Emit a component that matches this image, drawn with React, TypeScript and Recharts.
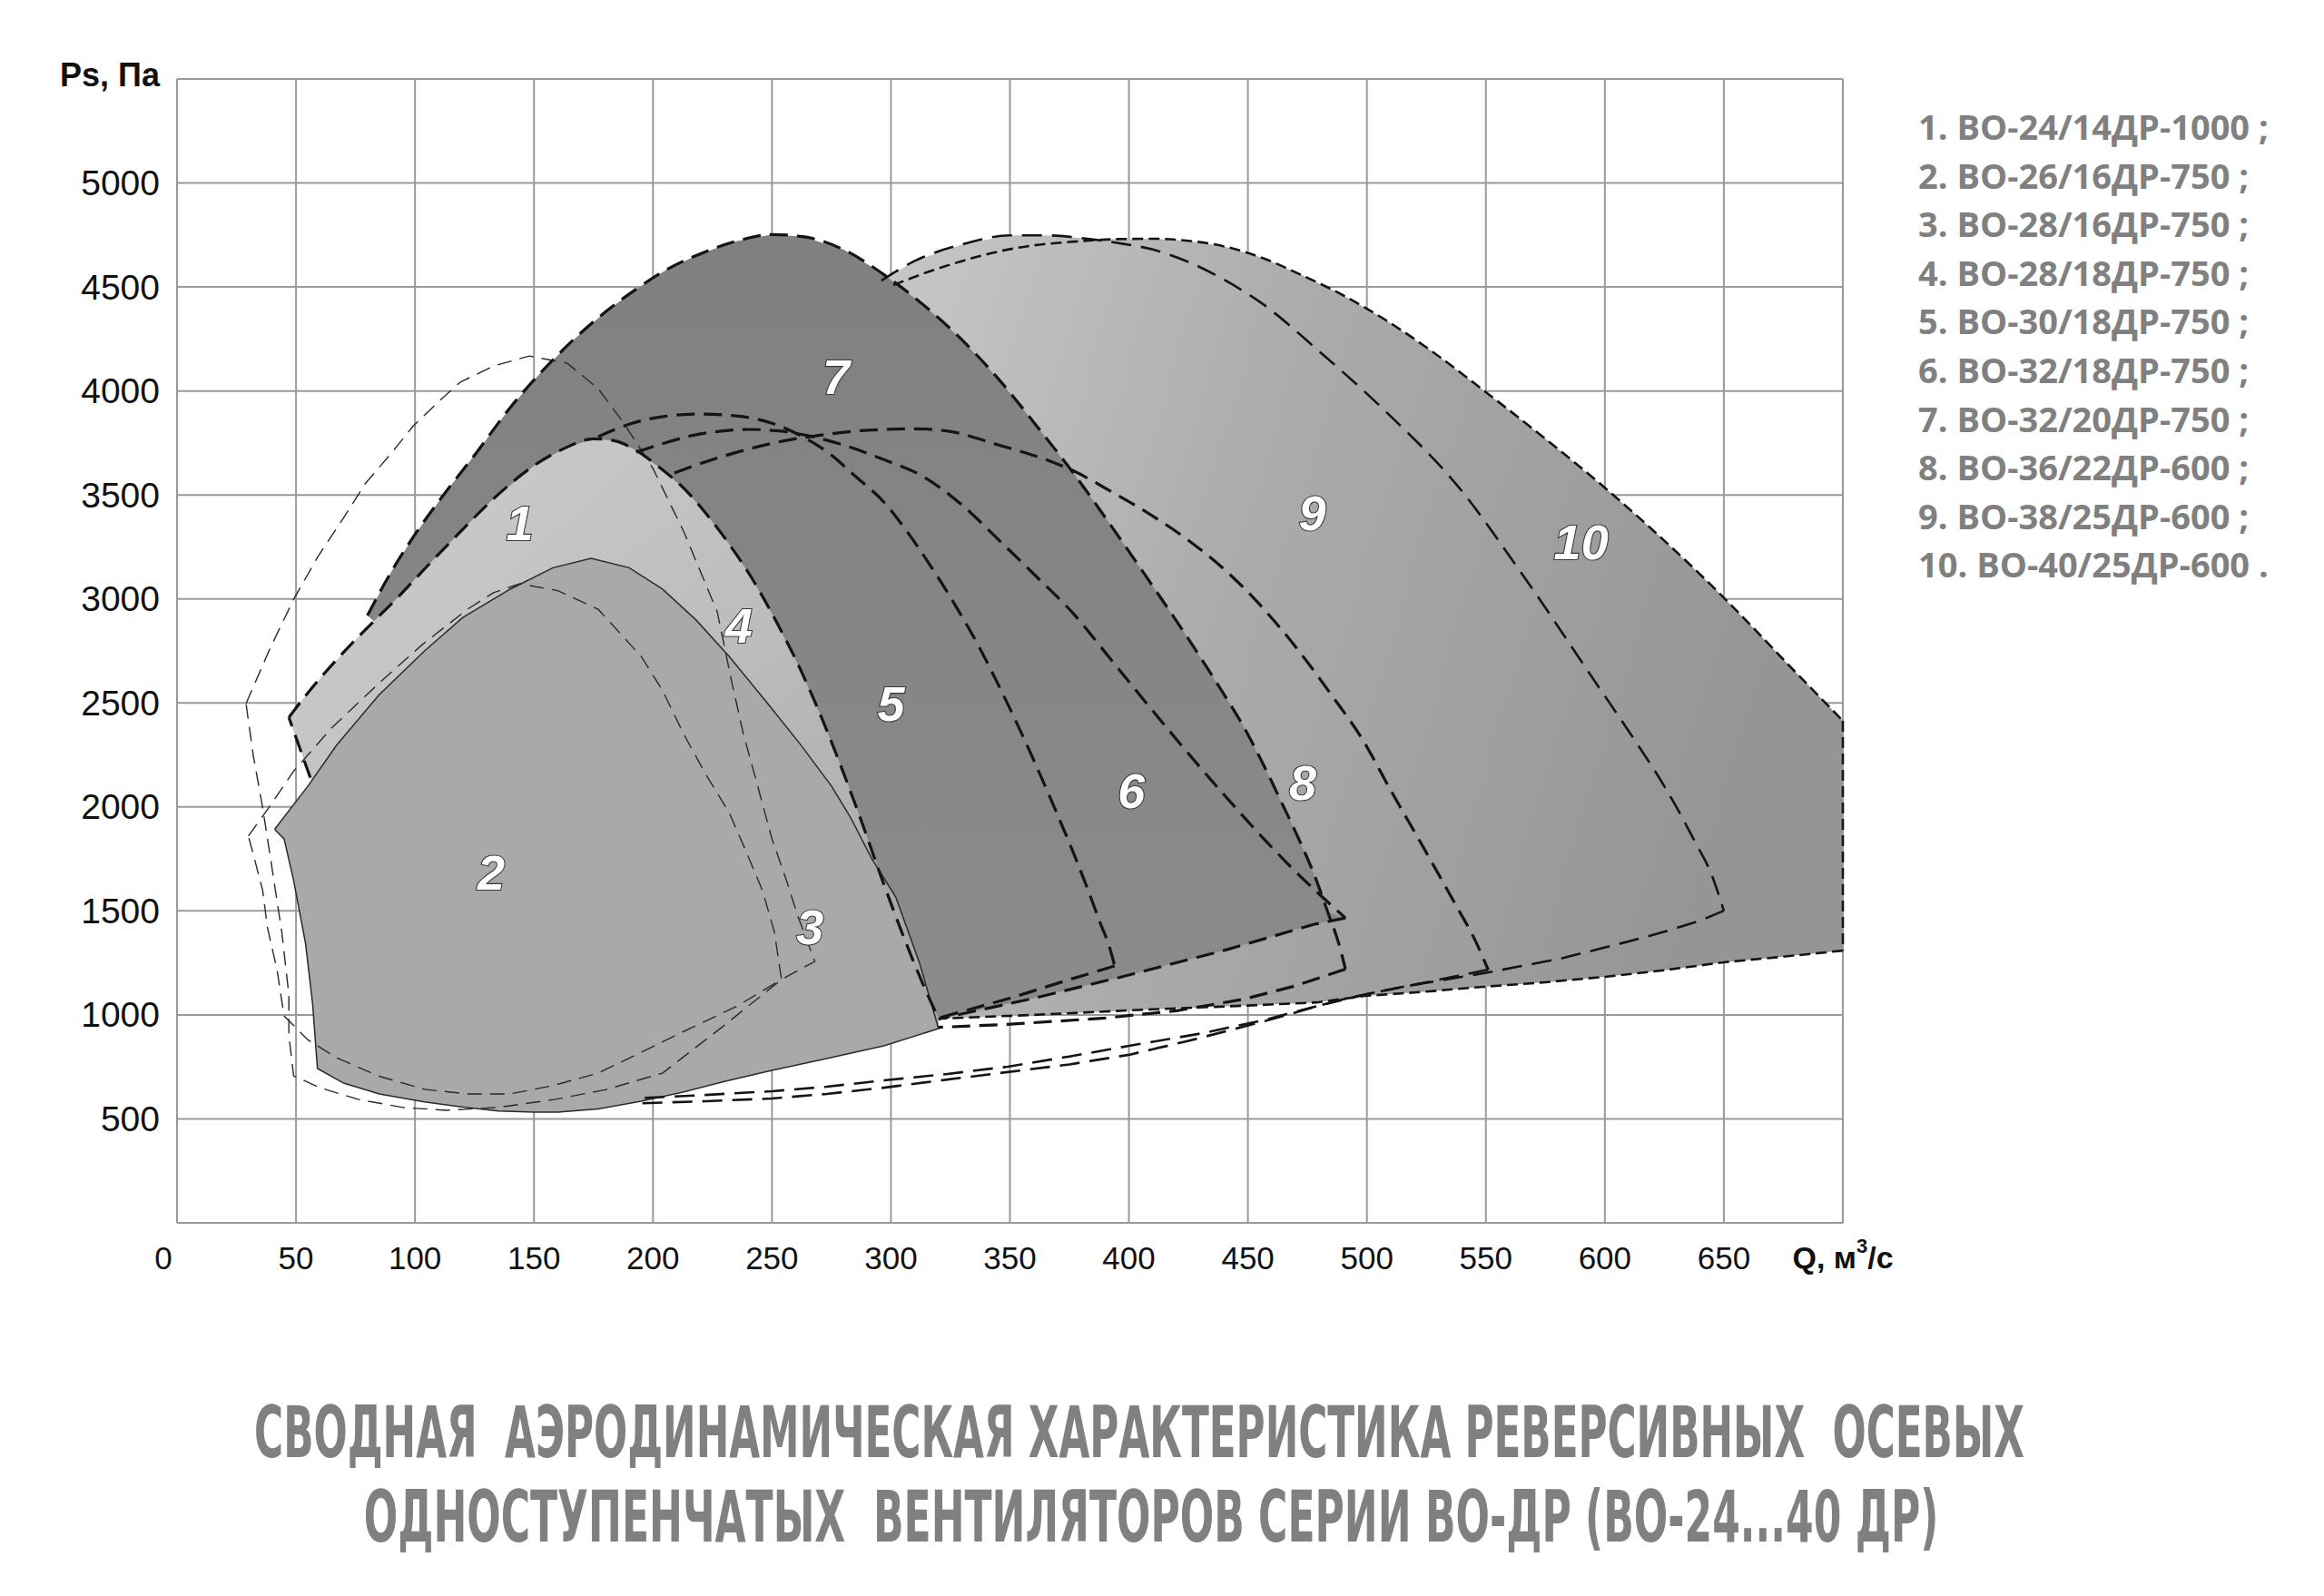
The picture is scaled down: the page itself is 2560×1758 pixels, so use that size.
import React, { useLayoutEffect, useRef, useState } from 'react';
import { ComposedChart, Scatter, XAxis, YAxis, CartesianGrid } from 'recharts';

type P = [number, number];

// ---- axis ticks ----
const X_TICKS = [0, 50, 100, 150, 200, 250, 300, 350, 400, 450, 500, 550, 600, 650, 700];
const Y_TICKS = [0, 500, 1000, 1500, 2000, 2500, 3000, 3500, 4000, 4500, 5000, 5500];

// ---- curves (Q, m3/s ; Ps, Pa) ----
const SEVEN: P[] = [[80,2920],[90,3130],[100,3310],[112,3500],[126,3706],[140,3920],[153,4090],[166,4240],[180,4380],[193,4490],[206,4585],[220,4660],[235,4720],[250,4752],[263,4742],[280,4680],[297,4560],[313,4420],[329,4255],[345,4060],[361,3835],[377,3600],[392,3360],[408,3095],[424,2825],[440,2540],[448,2390],[456,2215],[464,2025],[472,1830],[478,1670],[484,1480],[488,1350],[491,1220]];
const SEVEN_BOTTOM: P[] = [[491,1220],[470,1140],[448,1075],[420,1020],[390,985],[350,955],[320,940]];

const ONE_LEFT: P[] = [[56,2141],[47,2430]];
const ONE_TOP: P[] = [[47,2430],[53,2520],[60,2617],[73,2780],[81,2873],[93,3010],[104,3144],[118,3310],[132,3471],[150,3641],[163,3725],[175,3770],[184,3760],[192,3720],[203,3630],[214,3520],[223,3400],[232,3264],[241,3110],[250,2930],[262,2660],[271,2425],[279,2195],[287,1950],[296,1660],[305,1385],[313,1160],[320,982]];

const FIVE: P[] = [[177,3780],[190,3840],[205,3878],[220,3889],[235,3880],[250,3845],[262,3785],[274,3700],[285,3590],[297,3466],[307,3320],[316,3170],[327,2970],[337,2770],[345,2590],[353,2400],[360,2225],[368,2015],[377,1770],[383,1595],[388,1440],[392,1320],[394,1235]];
const FIVE_BOTTOM: P[] = [[394,1235],[375,1170],[350,1080],[320,985]];

const SIX: P[] = [[193,3706],[205,3750],[215,3782],[227,3805],[240,3815],[253,3808],[265,3785],[280,3740],[297,3670],[313,3592],[330,3450],[345,3287],[360,3120],[377,2925],[392,2715],[408,2490],[424,2270],[440,2058],[456,1855],[468,1712],[480,1580],[491,1466]];
const SIX_BOTTOM: P[] = [[491,1466],[478,1436],[440,1310],[397,1183],[360,1080],[320,980]];

const EIGHT: P[] = [[209,3606],[225,3670],[240,3720],[255,3760],[269,3785],[283,3805],[297,3815],[310,3818],[325,3805],[345,3741],[360,3690],[377,3614],[392,3520],[408,3413],[424,3290],[440,3143],[456,2960],[472,2741],[485,2540],[498,2327],[510,2080],[524,1800],[538,1515],[545,1370],[551,1216]];
const EIGHT_BOTTOM: P[] = [[551,1218],[537,1185],[523,1152],[500,1100],[480,1045],[465,995],[448,943],[425,875],[400,808],[375,762],[349,725],[323,688],[297,650],[273,620],[250,598],[222,585],[195,575]];

const NINE: P[] = [[296,4530],[310,4625],[330,4705],[350,4748],[365,4748],[380,4735],[395,4712],[410,4680],[424,4625],[440,4535],[456,4420],[480,4190],[508,3900],[538,3545],[567,3090],[596,2600],[612,2330],[626,2080],[638,1830],[645,1670],[650,1500]];
const NINE_BOTTOM: P[] = [[650,1501],[640,1453],[625,1400],[610,1353],[595,1310],[581,1270],[565,1235],[549,1200],[532,1168],[515,1135],[500,1100],[490,1075],[475,1030],[456,973],[430,910],[400,851],[375,800],[349,751],[323,715],[297,685],[273,655],[250,633],[222,615],[195,600]];

const TEN: P[] = [[301,4509],[315,4570],[330,4625],[345,4670],[360,4700],[377,4718],[395,4730],[410,4732],[425,4722],[440,4695],[456,4640],[472,4560],[490,4460],[508,4340],[528,4185],[549,4003],[575,3770],[603,3505],[625,3280],[647,3040],[662,2865],[676,2697],[688,2555],[700,2414]];
const TEN_RIGHT: P[] = [[700,2414],[700,1309]];
const TEN_BOTTOM: P[] = [[700,1309],[675,1280],[650,1253],[625,1215],[600,1183],[575,1157],[549,1135],[525,1112],[499,1091],[479,1060],[450,1045],[408,1026],[360,1000],[320,982]];

const TWO_TOP: P[] = [[41,1892],[55,2100],[67,2296],[85,2540],[104,2750],[120,2910],[140,3047],[158,3150],[174,3195],[190,3150],[204,3047],[218,2900],[232,2724],[248,2500],[262,2300],[275,2100],[283,1950],[292,1750],[302,1567],[312,1250],[320,934]];
const TWO_BOTTOM: P[] = [[320,934],[297,851],[273,790],[250,733],[230,680],[213,630],[195,585],[177,548],[160,533],[150,532],[135,538],[122,554],[104,582],[85,620],[70,672],[59,742],[57,1050],[54,1344],[49,1646],[45,1846],[41,1892]];

const THREE_THIN: P[] = [[29,2497],[39,2760],[49,2998],[59,3200],[70,3390],[79,3553],[90,3700],[99,3828],[110,3950],[119,4042],[133,4120],[148,4168],[164,4133],[177,4011],[188,3841],[200,3627],[213,3322],[227,2938],[233,2606],[238,2350],[244,2100],[250,1846],[256,1650],[261,1471],[268,1257],[254,1170],[230,950],[204,720],[180,640],[159,594],[135,555],[113,541],[95,555],[76,594],[60,650],[49,707],[47,900],[47,1096],[44,1400],[40,1700],[36,1995],[32,2250],[29,2497]];
const TWO_THIN: P[] = [[30,1860],[40,2020],[49,2172],[65,2380],[85,2596],[103,2780],[122,2950],[133,3030],[144,3073],[160,3040],[177,2950],[195,2724],[204,2560],[213,2348],[222,2160],[232,1973],[239,1790],[246,1598],[251,1400],[254,1170],[235,1040],[213,921],[195,820],[177,720],[158,660],[140,620],[122,620],[104,642],[85,705],[67,794],[55,880],[45,995],[42,1218],[38,1420],[36,1598],[33,1730],[30,1860]];

// hidden closing points (under upper fills)
const BIG_CLOSE: P[] = [[330,2000]];
const DARK_CLOSE: P[] = [[250,2500],[85,2870]];
const LIGHT_CLOSE: P[] = [[320,934],[200,1500],[60,2050],[56,2141]];

const LABELS = [
  { x: 144, y: 3364, label: '1' },
  { x: 132, y: 1686, label: '2' },
  { x: 266, y: 1422, label: '3' },
  { x: 236, y: 2873, label: '4' },
  { x: 300, y: 2496, label: '5' },
  { x: 401, y: 2077, label: '6' },
  { x: 277, y: 4068, label: '7' },
  { x: 473, y: 2119, label: '8' },
  { x: 477, y: 3414, label: '9' },
  { x: 590, y: 3272, label: '10' },
];

const LEGEND = [
  '1. ВО-24/14ДР-1000 ;',
  '2. ВО-26/16ДР-750 ;',
  '3. ВО-28/16ДР-750 ;',
  '4. ВО-28/18ДР-750 ;',
  '5. ВО-30/18ДР-750 ;',
  '6. ВО-32/18ДР-750 ;',
  '7. ВО-32/20ДР-750 ;',
  '8. ВО-36/22ДР-600 ;',
  '9. ВО-38/25ДР-600 ;',
  '10. ВО-40/25ДР-600 .',
];

const TITLE_1 = 'СВОДНАЯ\u00A0 АЭРОДИНАМИЧЕСКАЯ ХАРАКТЕРИСТИКА РЕВЕРСИВНЫХ\u00A0 ОСЕВЫХ';
const TITLE_2 = 'ОДНОСТУПЕНЧАТЫХ\u00A0 ВЕНТИЛЯТОРОВ СЕРИИ ВО-ДР (ВО-24...40 ДР)';

// ---- helpers ----
const toPts = (a: P[]) => a.map(([x, y]) => ({ x, y }));
const NoDot = () => <g />;

const HEAVY = { stroke: '#141414', strokeWidth: 3.2, strokeDasharray: '20 10', fill: 'none' };
const MID = { stroke: '#141414', strokeWidth: 2.6, strokeDasharray: '22 11', fill: 'none' };
const FINE = { stroke: '#141414', strokeWidth: 2.6, strokeDasharray: '12 6', fill: 'none' };
const THIN = { stroke: '#2a2a2a', strokeWidth: 1.4, strokeDasharray: '16 9', fill: 'none' };
const SOLID = { stroke: '#2a2a2a', strokeWidth: 1.5, fill: 'none' };

function shape(key: string, pts: P[], lineProps: any, joint: string = 'linear') {
  return (
    <Scatter
      key={key}
      data={toPts(pts)}
      dataKey="y"
      isAnimationActive={false}
      shape={NoDot}
      line={lineProps}
      lineType="joint"
      lineJointType={joint as any}
      legendType="none"
    />
  );
}

const LabelShape = (props: any) => {
  const { cx, cy, payload } = props;
  return (
    <text
      x={cx}
      y={cy}
      textAnchor="middle"
      dominantBaseline="central"
      fontFamily="'Liberation Sans', Arial, sans-serif"
      fontStyle="italic"
      fontWeight="bold"
      fontSize={54}
      fill="#ffffff"
      stroke="#3a3a3a"
      strokeWidth={2.2}
      paintOrder="stroke"
    >
      {payload.label}
    </text>
  );
};

const AX_FONT = "'Liberation Sans', Arial, sans-serif";

const XTick = (props: any) => {
  const { x, y, payload } = props;
  const v = payload.value;
  if (v === 700) {
    return (
      <text x={x} y={y + 38} textAnchor="middle" dominantBaseline="central" fontFamily={AX_FONT} fontWeight="bold" fontSize={34} fill="#111">
        <tspan>Q, м</tspan>
        <tspan dy={-13} fontSize={22}>3</tspan>
        <tspan dy={13}>/с</tspan>
      </text>
    );
  }
  return (
    <text x={v === 0 ? x - 15 : x} y={y + 38} textAnchor="middle" dominantBaseline="central" fontFamily={AX_FONT} fontSize={35} fill="#111">
      {v}
    </text>
  );
};

const YTick = (props: any) => {
  const { x, y, payload } = props;
  const v = payload.value;
  if (v === 0) return <g />;
  if (v === 5500) {
    return (
      <text x={x} y={y - 5} textAnchor="end" dominantBaseline="central" fontFamily={AX_FONT} fontWeight="bold" fontSize={36} fill="#111">
        Ps, Па
      </text>
    );
  }
  return (
    <text x={x} y={y} textAnchor="end" dominantBaseline="central" fontFamily={AX_FONT} fontSize={39} fill="#111">
      {v}
    </text>
  );
};

const FitText = ({ cx, y, width, children }: { cx: number; y: number; width: number; children: any }) => {
  const ref = useRef<SVGTextElement>(null);
  const [s, setS] = useState(0.8);
  useLayoutEffect(() => {
    if (ref.current) {
      const l = ref.current.getComputedTextLength();
      if (l > 0) setS(width / l);
    }
  }, [width]);
  return (
    <text
      ref={ref}
      x={0}
      y={0}
      transform={`translate(${cx},${y}) scale(${s},1)`}
      textAnchor="middle"
      fontFamily="'Liberation Sans Narrow', 'DejaVu Sans Condensed', 'Liberation Sans', sans-serif"
      fontWeight="bold"
      fontSize={78}
      fill="#808080"
    >
      {children}
    </text>
  );
};

export default function App() {
  const bigPoly: P[] = [
    ...NINE.slice(0, 6),
    ...TEN.slice(6),
    ...TEN_RIGHT.slice(1),
    ...TEN_BOTTOM.slice(1),
    ...BIG_CLOSE,
  ];
  const darkPoly: P[] = [
    ...SEVEN.slice(0, 32),
    [482, 1500],
    ...SIX_BOTTOM,
    ...DARK_CLOSE,
  ];
  const lightPoly: P[] = [...ONE_TOP, ...LIGHT_CLOSE];
  const twoPoly: P[] = [...TWO_TOP, ...TWO_BOTTOM.slice(1)];

  return (
    <div style={{ position: 'absolute', left: 0, top: 0, width: 2560, height: 1758, background: '#fff' }}>
      <ComposedChart
        width={2560}
        height={1758}
        margin={{ top: 87, right: 530, bottom: 351, left: 75 }}
      >
        <defs>
          <linearGradient id="gBig" x1="0" y1="0" x2="1" y2="0.25">
            <stop offset="0" stopColor="#c8c8c8" />
            <stop offset="0.45" stopColor="#ababab" />
            <stop offset="1" stopColor="#959595" />
          </linearGradient>
          <linearGradient id="gLight" x1="0" y1="0" x2="1" y2="1">
            <stop offset="0" stopColor="#cfcfcf" />
            <stop offset="0.5" stopColor="#bdbdbd" />
            <stop offset="1" stopColor="#a6a6a6" />
          </linearGradient>
          <linearGradient id="gDark" x1="0" y1="0" x2="0" y2="1">
            <stop offset="0" stopColor="#808080" />
            <stop offset="1" stopColor="#8b8b8b" />
          </linearGradient>
        </defs>
        <CartesianGrid stroke="#9a9a9a" strokeWidth={2} />
        <XAxis
          type="number"
          dataKey="x"
          domain={[0, 700]}
          ticks={X_TICKS}
          interval={0}
          axisLine={false}
          tickLine={false}
          tickSize={0}
          tickMargin={0}
          height={60}
          tick={<XTick />}
        />
        <YAxis
          type="number"
          dataKey="y"
          domain={[0, 5500]}
          ticks={Y_TICKS}
          interval={0}
          axisLine={false}
          tickLine={false}
          tickSize={0}
          tickMargin={19}
          width={120}
          tick={<YTick />}
        />
        {shape('fillBig', bigPoly, { fill: 'url(#gBig)', stroke: 'none' })}
        {shape('fillDark', darkPoly, { fill: 'url(#gDark)', stroke: 'none' })}
        {shape('fillLight', lightPoly, { fill: 'url(#gLight)', stroke: 'none' })}
        {shape('fillTwo', twoPoly, { fill: '#a9a9a9', stroke: 'none' })}
        {shape('twoOutline', [...TWO_TOP, ...TWO_BOTTOM.slice(1)], SOLID)}
        {shape('thin3', THREE_THIN, THIN)}
        {shape('thin2', TWO_THIN, THIN)}
        {shape('ten', TEN, FINE, 'monotoneX')}
        {shape('tenR', TEN_RIGHT, FINE)}
        {shape('tenB', TEN_BOTTOM, FINE)}
        {shape('nine', NINE, MID, 'monotoneX')}
        {shape('nineB', NINE_BOTTOM, MID)}
        {shape('eight', EIGHT, HEAVY, 'monotoneX')}
        {shape('eightB', EIGHT_BOTTOM, MID)}
        {shape('seven', SEVEN, HEAVY, 'monotoneX')}
        {shape('sevenB', SEVEN_BOTTOM, HEAVY)}
        {shape('six', SIX, HEAVY, 'monotoneX')}
        {shape('sixB', SIX_BOTTOM, HEAVY)}
        {shape('five', FIVE, HEAVY, 'monotoneX')}
        {shape('fiveB', FIVE_BOTTOM, HEAVY)}
        {shape('oneL', ONE_LEFT, HEAVY)}
        {shape('one', ONE_TOP, HEAVY, 'monotoneX')}
        <Scatter
          data={LABELS}
          dataKey="y"
          isAnimationActive={false}
          shape={<LabelShape />}
          legendType="none"
        />
      </ComposedChart>
      <svg
        width={2560}
        height={1758}
        style={{ position: 'absolute', left: 0, top: 0, pointerEvents: 'none' }}
      >
        {LEGEND.map((t, i) => (
          <text
            key={t}
            x={2113}
            y={154 + i * 53.6}
            fontFamily="'Open Sans', 'Noto Sans', sans-serif"
            fontWeight="bold"
            fontSize={38}
            fill="#808080"
          >
            {t}
          </text>
        ))}
        <FitText cx={1255} y={1605} width={1950}>{TITLE_1}</FitText>
        <FitText cx={1268} y={1698} width={1735}>{TITLE_2}</FitText>
      </svg>
    </div>
  );
}
